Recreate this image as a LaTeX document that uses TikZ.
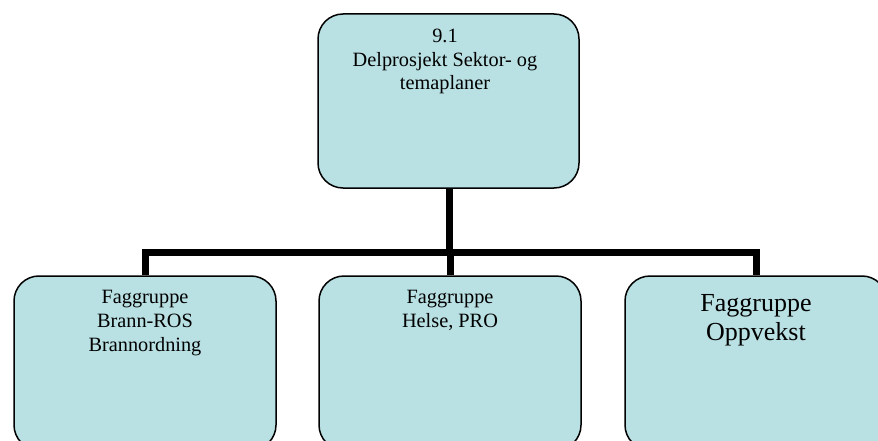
\documentclass[tikz,border=0pt]{standalone}
\usepackage{fontspec}
\setmainfont{Liberation Serif}
\definecolor{boxfill}{RGB}{185,224,227}
\begin{document}
\begin{tikzpicture}[x=1pt,y=1pt,
  box/.style={draw=black, line width=1.5pt, fill=boxfill, rounded corners=25pt,
    minimum width=#1, minimum height=174pt, inner sep=0pt},
  box/.default=262pt,
  conn/.style={line width=7pt, draw=black},
  lbl/.style={anchor=base, align=center, inner sep=0pt, font=\fontsize{20.3}{23.6}\selectfont},
  lblbig/.style={anchor=base, align=center, inner sep=0pt, font=\fontsize{26}{29}\selectfont}]
\useasboundingbox (0,0) rectangle (878,-441);
\clip (0,0) rectangle (878,-441);
\node[box=261pt] (top) at (448.5,-101) {};
\node[box] (left) at (145,-363) {};
\node[box] (mid) at (450,-363) {};
\node[box] (right) at (756,-363) {};
\coordinate (hl) at (145,-252);
\coordinate (hc) at (449,-252);
\coordinate (hr) at (756,-252);
\draw[conn] (top.south -| hc) -- (hc);
\draw[conn,line cap=rect] (hl) -- (hr);
\draw[conn] (hl) -- (left.north);
\draw[conn] (hc -| mid.north) -- (mid.north);
\draw[conn] (hr) -- (right.north);
\node[lbl] (ttop) at (445,-90) {9.1\\Delprosjekt Sektor- og\\temaplaner};
\node[lbl] (tleft) at (145,-351) {Faggruppe\\Brann-ROS\\Brannordning};
\node[lbl] (tmid) at (450,-327) {Faggruppe\\Helse, PRO};
\node[lblbig] (tright) at (756,-340) {Faggruppe\\Oppvekst};
\end{tikzpicture}
\end{document}
